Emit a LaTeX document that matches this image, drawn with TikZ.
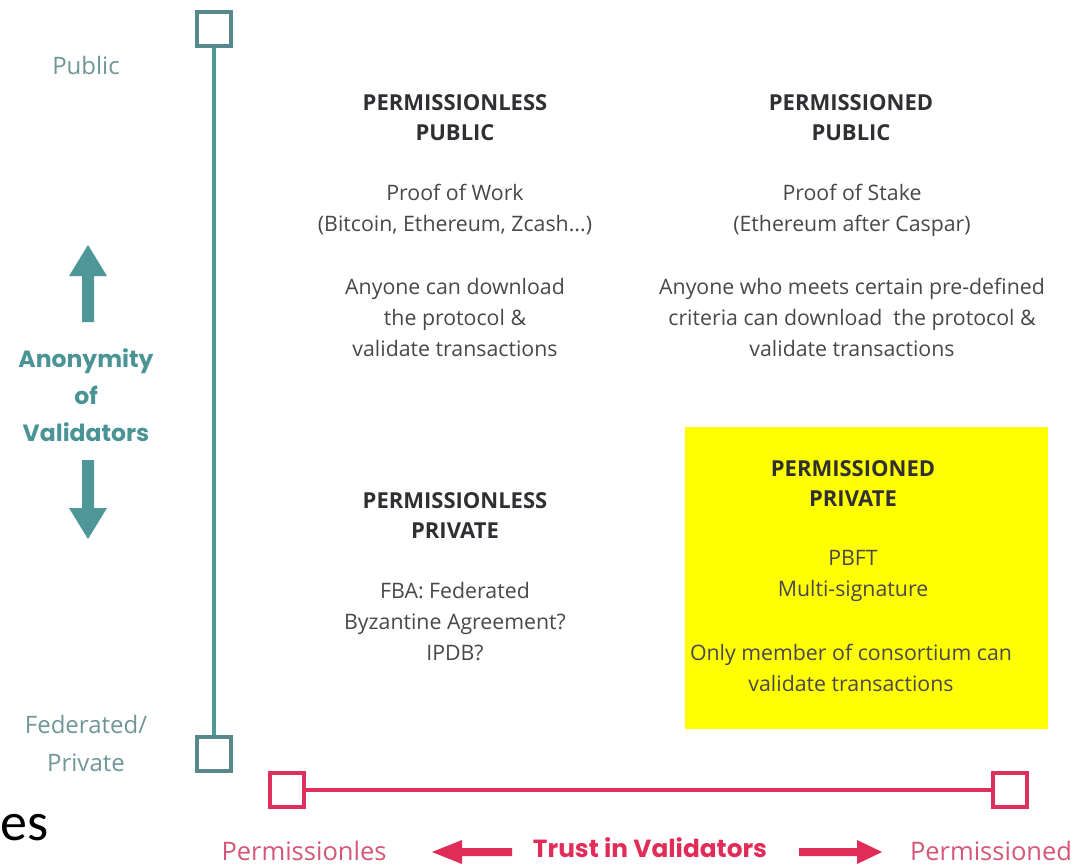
\documentclass[tikz,border=0pt]{standalone}
\usepackage{fontspec}
\setmainfont{Open Sans}
\newfontfamily\labfont{Poppins}
\newfontfamily\calfont{Carlito}
\definecolor{tealline}{RGB}{78,150,152}
\definecolor{tealsq}{RGB}{86,136,140}
\definecolor{tealtxt}{RGB}{112,150,152}
\definecolor{tealbold}{RGB}{74,148,150}
\definecolor{redline}{RGB}{222,48,92}
\definecolor{redtxt}{RGB}{214,86,120}
\definecolor{redbold}{RGB}{226,44,88}
\definecolor{titlecol}{RGB}{48,48,52}
\definecolor{bodycol}{RGB}{72,72,76}
\definecolor{hiyellow}{RGB}{255,255,0}
\tikzset{
  sqteal/.style={draw=tealsq, line width=3.5pt, fill=white, minimum size=34pt, inner sep=0pt},
  sqred/.style={draw=redline, line width=3.5pt, fill=white, minimum size=34pt, inner sep=0pt},
  title/.style={font=\fontsize{22}{30}\selectfont\bfseries, text=titlecol, align=center, inner sep=0pt},
  body/.style={font=\fontsize{21.3}{31}\selectfont, text=bodycol, align=center, inner sep=0pt},
  axlab/.style={font=\fontsize{24}{38}\selectfont, text=tealtxt, align=center, inner sep=0pt},
  axbold/.style={font=\labfont\fontsize{23.5}{37}\selectfont\bfseries, text=tealbold, align=center, inner sep=0pt},
  redlab/.style={font=\fontsize{25.5}{28}\selectfont, text=redtxt, inner sep=0pt},
}
\begin{document}
\begin{tikzpicture}[x=1pt,y=-1pt]
\useasboundingbox (0,0) rectangle (1085,868);
\fill[white] (0,0) rectangle (1085,868);
% yellow highlight
\fill[hiyellow] (685,427) rectangle (1048,729);
% vertical axis
\node[sqteal] (tsq) at (214,29) {};
\node[sqteal] (bsq) at (214,754) {};
\draw[tealline, line width=4pt] (tsq.south) -- (bsq.north);
% horizontal axis
\node[sqred] (lsq) at (287,790) {};
\node[sqred] (rsq) at (1010,790) {};
\draw[redline, line width=3.5pt] (lsq.east) -- (rsq.west);
% vertical labels
\node[axlab] (pub) at (86,65) {Public};
\node[axlab] (fed) at (86,743) {Federated/\\Private};
\node[axbold] (anon) at (86,395) {Anonymity\\of\\Validators};
\fill[tealline] (82,322) -- (82,276) -- (69,276) -- (88,245) -- (107,276) -- (94,276) -- (94,322) -- cycle;
\fill[tealline] (82,460) -- (82,508) -- (69,508) -- (88,539) -- (107,508) -- (94,508) -- (94,460) -- cycle;
% horizontal labels
\node[redlab, anchor=center] (pl) at (304,851) {Permissionles};
\node[redlab, anchor=base, font=\labfont\fontsize{24.8}{28}\selectfont\bfseries, text=redbold] (tv) at (650,857) {Trust in Validators};
\node[redlab, anchor=center] (pd) at (991,851) {Permissioned};
\fill[redbold] (512,848) -- (462,848) -- (462,840) -- (432,852) -- (462,864) -- (462,856) -- (512,856) -- cycle;
\fill[redbold] (799,848) -- (857,848) -- (857,840) -- (882,852) -- (857,864) -- (857,856) -- (799,856) -- cycle;
% quadrant texts
\node[title] (t1) at (455,118) {PERMISSIONLESS\\PUBLIC};
\node[body] (b1a) at (455,210) {Proof of Work\\(Bitcoin, Ethereum, Zcash...)};
\node[body] (b1b) at (455,318) {Anyone can download\\the protocol \&\\validate transactions};
\node[title] (t2) at (851,118) {PERMISSIONED\\PUBLIC};
\node[body] (b2a) at (852,210) {Proof of Stake\\(Ethereum after Caspar)};
\node[body] (b2b) at (852,317) {Anyone who meets certain pre-defined\\criteria can download\ \ the protocol \&\\validate transactions};
\node[title] (t3) at (455,516) {PERMISSIONLESS\\PRIVATE};
\node[body] (b3) at (455,622) {FBA: Federated\\Byzantine Agreement?\\IPDB?};
\node[title] (t4) at (853,484) {PERMISSIONED\\PRIVATE};
\node[body] (b4a) at (853,576) {PBFT\\Multi-signature};
\node[body] (b4b) at (851,668) {Only member of consortium can\\validate transactions};
% fragment
\node[font=\calfont\fontsize{54}{58}\selectfont, text=black, anchor=base west, inner sep=0pt] (es) at (0,840) {es};
\end{tikzpicture}
\end{document}
